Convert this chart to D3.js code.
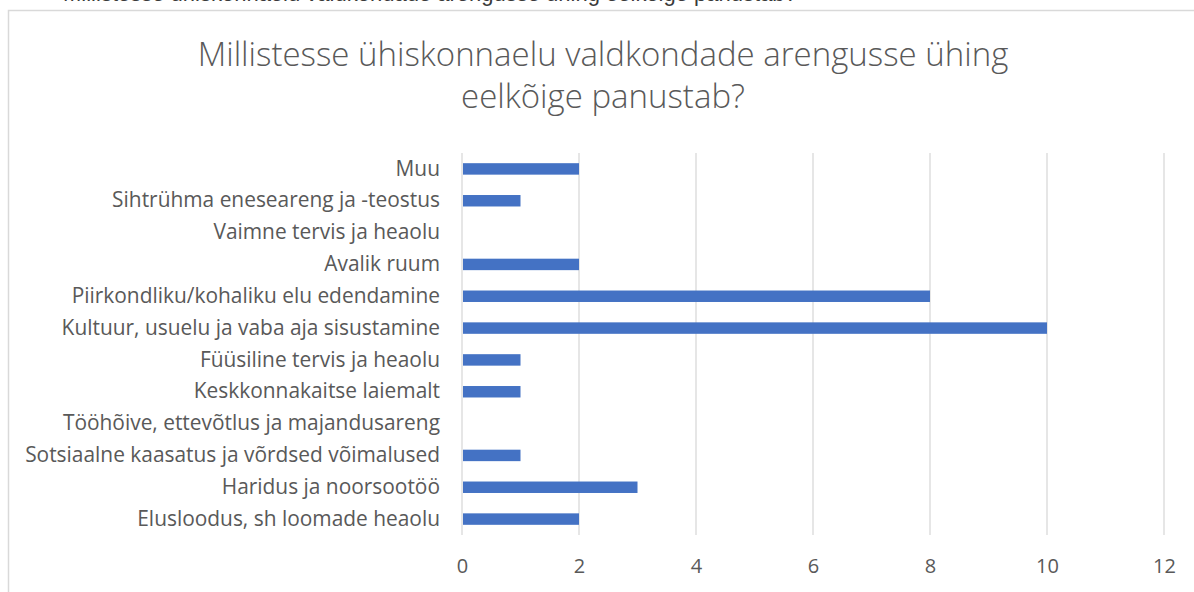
<!DOCTYPE html>
<html><head><meta charset="utf-8">
<script src="https://cdn.jsdelivr.net/npm/d3@7"></script>
<style>body{margin:0;background:#fff;overflow:hidden}svg{display:block}</style>
</head><body>
<script>
const categories = ["Elusloodus, sh loomade heaolu","Haridus ja noorsootöö","Sotsiaalne kaasatus ja võrdsed võimalused","Tööhõive, ettevõtlus ja majandusareng","Keskkonnakaitse laiemalt","Füüsiline tervis ja heaolu","Kultuur, usuelu ja vaba aja sisustamine","Piirkondliku/kohaliku elu edendamine","Avalik ruum","Vaimne tervis ja heaolu","Sihtrühma eneseareng ja -teostus","Muu"];
const values = [2,3,1,0,1,1,10,8,2,0,1,2];
const tickValues = [0,2,4,6,8,10,12];
const titleLines = ["Millistesse ühiskonnaelu valdkondade arengusse ühing","eelkõige panustab?"];
const headerText = "Millistesse ühiskonnaelu valdkondade arengusse ühing eelkõige panustab?";

const W=1194,H=592;
const svg=d3.select("body").append("svg").attr("width",W).attr("height",H);
const font="'Open Sans', sans-serif";

// partly visible document text above the chart (cut by the page top)
svg.append("text").attr("x",63).attr("y",1).attr("font-family","'Liberation Sans', sans-serif")
  .attr("font-size",22).attr("fill","#3a3a3a").text(headerText);

// chart frame
svg.append("rect").attr("x",8.5).attr("y",10.5).attr("width",1200).attr("height",600)
  .attr("fill","#fff").attr("stroke","#d9d9d9").attr("stroke-width",1.5);

const x=d3.scaleLinear().domain([0,12]).range([462,1164]);
const y=d3.scaleBand().domain(categories.slice().reverse()).range([153,535]).paddingInner(0.64).paddingOuter(0.32);

const g=svg.append("g");
g.selectAll("line.grid").data(tickValues).join("line")
  .attr("x1",d=>x(d)).attr("x2",d=>x(d)).attr("y1",153).attr("y2",535)
  .attr("stroke","#d9d9d9").attr("stroke-width",1.3);

g.selectAll("rect.bar").data(categories.map((c,i)=>({c,v:values[i]}))).join("rect")
  .attr("x",x(0)+1).attr("y",d=>y(d.c)).attr("height",y.bandwidth())
  .attr("width",d=>Math.max(0,x(d.v)-x(0)-1)).attr("fill","#4472c4");

const yAxis=d3.axisLeft(y).tickSize(0).tickPadding(22);
const ya=svg.append("g").attr("transform","translate(462,0)").call(yAxis);
ya.select(".domain").remove();
ya.selectAll("text").attr("font-family",font).attr("font-size",20.9).attr("fill","#595959");

const xAxis=d3.axisBottom(x).tickValues(tickValues).tickSize(0).tickPadding(24);
const xa=svg.append("g").attr("transform","translate(0,535)").call(xAxis);
xa.select(".domain").remove();
xa.selectAll("text").attr("font-family",font).attr("font-size",20).attr("fill","#595959");

svg.append("g").selectAll("text").data(titleLines).join("text")
  .attr("x",603).attr("y",(d,i)=>66+i*42).attr("text-anchor","middle")
  .attr("font-family",font).attr("font-weight",300).attr("font-size",33).attr("fill","#595959").text(d=>d);
</script>
</body></html>
